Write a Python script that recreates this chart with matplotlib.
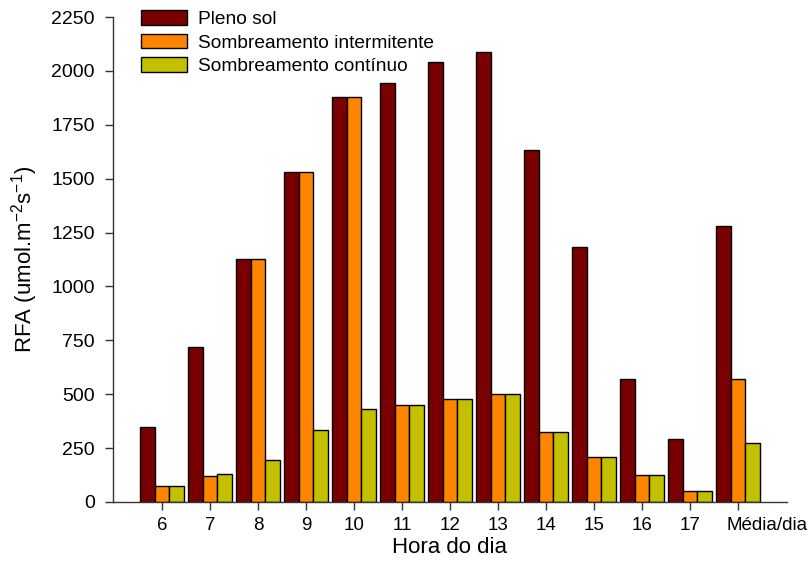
import matplotlib
matplotlib.use('Agg')
import matplotlib.pyplot as plt
import matplotlib.transforms as mtransforms
import numpy as np

plt.rcParams['font.family'] = ['Liberation Sans', 'DejaVu Sans']
plt.rcParams['mathtext.fontset'] = 'custom'
plt.rcParams['mathtext.rm'] = 'Liberation Sans'

# %%
hours = ['6', '7', '8', '9', '10', '11', '12', '13', '14', '15', '16', '17', 'Média/dia']
pleno_sol = [346, 720, 1126, 1531, 1880, 1943, 2042, 2086, 1631, 1182, 572, 292, 1279]
intermitente = [76, 122, 1126, 1531, 1880, 450, 478, 500, 327, 207, 126, 51, 572]
continuo = [76, 131, 194, 333, 432, 450, 478, 500, 327, 207, 126, 51, 276]

# %%
width = 0.3
fig = plt.figure(figsize=(8.09, 5.62), dpi=100)
ax = fig.add_axes([113/809, 1-502/562, (787-113)/809, (502-17)/562])
index = np.arange(len(hours))
ax.bar(index-width, pleno_sol, width=width, color='#7a0000', edgecolor='black', linewidth=1,
       label='Pleno sol')
ax.bar(index, intermitente, width=width, color='#ff8400', edgecolor='black', linewidth=1,
       label='Sombreamento intermitente')
ax.bar(index+width, continuo, width=width, color='#c2c000', edgecolor='black', linewidth=1,
       label='Sombreamento contínuo')

ax.set_xlim(-1.02, 13.02)
ax.set_ylim(0, 2250)
ax.set_yticks(np.arange(0, 2251, 250))
ax.set_xticks(index)
ax.set_xticklabels(hours)
ax.spines['top'].set_visible(False)
ax.spines['right'].set_visible(False)
for s in ['left', 'bottom']:
    ax.spines[s].set_color('#333333')
    ax.spines[s].set_linewidth(1)
ax.tick_params(direction='out', length=6, width=1, color='#333333', labelsize=14)
ax.tick_params(axis='y', pad=7)
ax.tick_params(axis='x', pad=5, labelsize=13.5)
# last label sits to the right of its tick in the original
last = ax.get_xticklabels()[-1]
last.set_transform(last.get_transform() + mtransforms.ScaledTranslation(0.29, 0, fig.dpi_scale_trans))
ax.set_xlabel('Hora do dia', fontsize=16, labelpad=2)
ax.set_ylabel('RFA (umol.m$^{-2}$s$^{-1}$)', fontsize=16, labelpad=8)

ax.legend(loc='upper left', bbox_to_anchor=(141/809, 1-10/562), bbox_transform=fig.transFigure,
          frameon=False, fontsize=13.8, handlelength=2.4, handleheight=0.8,
          handletextpad=0.55, labelspacing=0.3, borderpad=0, borderaxespad=0)

plt.savefig('out.png', dpi=100)
